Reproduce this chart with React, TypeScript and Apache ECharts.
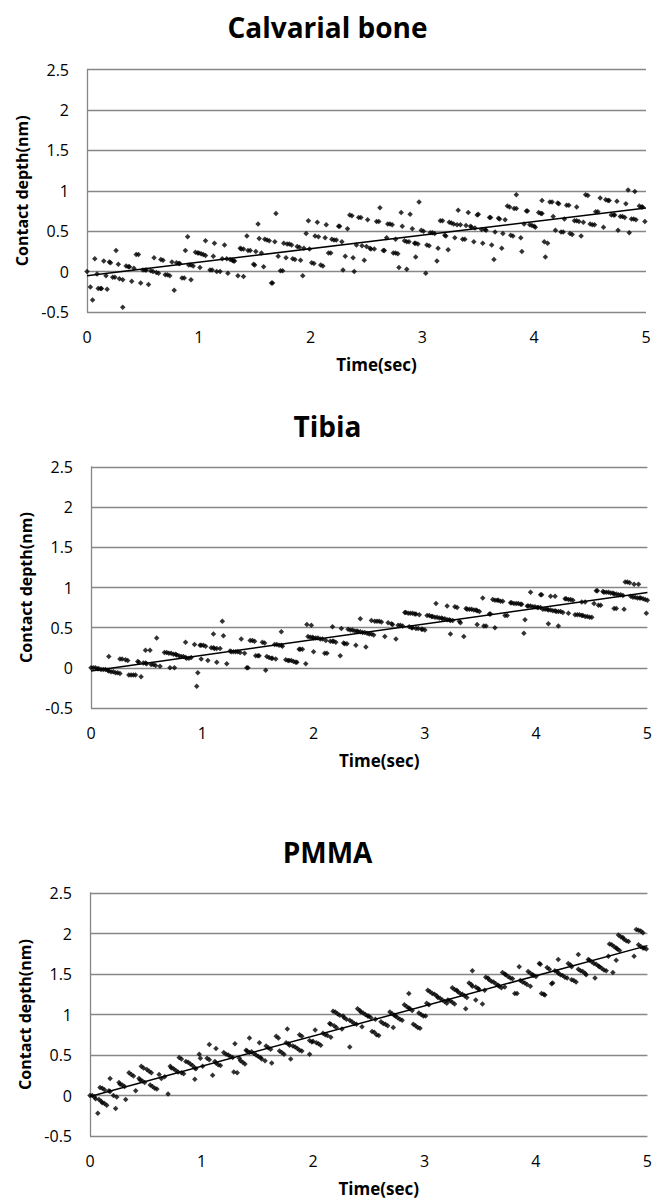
import React, { useEffect, useRef } from "react";
import * as echarts from "echarts";

const chartTitles = ["Calvarial bone", "Tibia", "PMMA"];
const xAxisTitle = "Time(sec)";
const yAxisTitle = "Contact depth(nm)";

const calvarialPoints: [number, number][] = [
  [0.00,0.00],[0.03,-0.19],[0.05,-0.35],[0.07,0.16],[0.09,-0.03],[0.10,-0.21],[0.12,-0.21],[0.13,-0.21],[0.15,0.13],[0.17,-0.05],
  [0.18,-0.22],[0.20,0.12],[0.21,0.11],[0.23,-0.07],[0.25,-0.07],[0.26,0.26],[0.28,0.09],[0.29,-0.09],[0.32,-0.10],[0.32,-0.44],
  [0.35,0.07],[0.37,0.06],[0.38,0.06],[0.40,-0.12],[0.42,0.04],[0.44,0.21],[0.46,0.21],[0.48,-0.14],[0.50,0.02],[0.52,0.02],
  [0.53,0.02],[0.55,-0.16],[0.57,0.01],[0.59,0.00],[0.60,0.17],[0.62,-0.01],[0.64,-0.02],[0.66,0.15],[0.68,0.14],[0.70,-0.04],
  [0.72,-0.04],[0.74,-0.05],[0.76,0.12],[0.78,-0.23],[0.80,0.11],[0.82,0.10],[0.83,0.10],[0.85,-0.08],[0.87,-0.08],[0.88,0.26],
  [0.90,0.43],[0.91,0.08],[0.93,0.08],[0.93,-0.10],[0.95,0.07],[0.97,0.24],[0.99,0.23],[1.00,0.23],[1.02,0.22],[1.04,0.21],
  [1.06,0.20],[1.01,0.05],[1.06,0.38],[1.10,0.02],[1.12,0.02],[1.13,0.19],[1.14,0.35],[1.16,0.00],[1.19,0.00],[1.21,0.16],
  [1.23,0.33],[1.25,0.16],[1.26,-0.02],[1.28,0.15],[1.30,0.14],[1.31,0.13],[1.32,0.13],[1.35,-0.05],[1.37,0.29],[1.38,0.28],
  [1.40,-0.06],[1.40,0.28],[1.43,0.44],[1.44,0.26],[1.46,0.26],[1.49,0.09],[1.50,0.08],[1.51,0.25],[1.53,0.59],[1.54,0.41],
  [1.56,0.23],[1.58,0.06],[1.59,0.40],[1.61,0.39],[1.63,0.38],[1.65,-0.14],[1.66,-0.14],[1.68,0.37],[1.69,0.72],[1.71,0.19],
  [1.73,0.01],[1.75,0.01],[1.76,0.35],[1.78,0.17],[1.79,0.34],[1.81,0.34],[1.83,0.33],[1.84,0.16],[1.86,0.15],[1.88,0.31],
  [1.90,0.30],[1.91,0.14],[1.93,-0.05],[1.94,0.29],[1.96,0.47],[1.98,0.63],[1.99,0.28],[2.01,0.11],[2.03,0.10],[2.04,0.44],
  [2.06,0.61],[2.07,0.43],[2.09,0.08],[2.11,0.07],[2.13,0.42],[2.14,0.58],[2.16,0.23],[2.18,0.23],[2.19,0.40],[2.21,0.39],
  [2.23,0.39],[2.25,0.56],[2.26,0.56],[2.28,0.37],[2.29,0.02],[2.31,0.19],[2.33,0.53],[2.35,0.70],[2.37,0.69],[2.38,0.17],
  [2.39,0.00],[2.41,0.33],[2.43,0.67],[2.45,0.67],[2.46,0.32],[2.48,0.14],[2.50,0.31],[2.51,0.64],[2.53,0.29],[2.54,0.28],
  [2.57,0.28],[2.59,0.62],[2.61,0.62],[2.62,0.79],[2.65,0.26],[2.66,0.26],[2.68,0.42],[2.69,0.59],[2.71,0.59],[2.73,0.58],
  [2.74,0.23],[2.76,0.23],[2.78,0.22],[2.76,0.40],[2.79,0.05],[2.81,0.73],[2.82,0.56],[2.84,0.38],[2.86,0.37],[2.88,0.37],
  [2.86,0.03],[2.89,0.71],[2.91,0.53],[2.93,0.35],[2.94,0.35],[2.96,0.34],[2.94,0.18],[2.97,0.86],[2.99,0.51],[3.01,0.50],
  [3.03,-0.02],[3.04,0.33],[3.06,0.32],[3.07,0.48],[3.09,0.48],[3.11,0.47],[3.13,0.13],[3.14,0.29],[3.16,0.63],[3.18,0.63],
  [3.20,0.45],[3.21,0.44],[3.23,0.27],[3.24,0.61],[3.26,0.60],[3.28,0.59],[3.29,0.42],[3.31,0.58],[3.32,0.76],[3.34,0.58],
  [3.36,0.40],[3.38,0.40],[3.39,0.57],[3.41,0.73],[3.43,0.56],[3.44,0.55],[3.46,0.37],[3.47,0.54],[3.49,0.70],[3.50,0.71],
  [3.53,0.52],[3.54,0.35],[3.56,0.52],[3.57,0.51],[3.60,0.67],[3.61,0.67],[3.62,0.33],[3.64,0.15],[3.65,0.49],[3.68,0.66],
  [3.69,0.65],[3.71,0.29],[3.72,0.47],[3.74,0.64],[3.76,0.81],[3.78,0.80],[3.79,0.45],[3.81,0.44],[3.82,0.78],[3.84,0.78],
  [3.84,0.95],[3.88,0.42],[3.89,0.25],[3.91,0.59],[3.93,0.75],[3.94,0.75],[3.96,0.58],[3.98,0.57],[4.00,0.56],[4.01,0.55],
  [4.04,0.73],[4.06,0.72],[4.07,0.72],[4.07,0.88],[4.09,0.37],[4.10,0.18],[4.12,0.35],[4.14,0.86],[4.16,0.86],[4.17,0.68],
  [4.19,0.51],[4.21,0.85],[4.22,0.84],[4.24,0.49],[4.26,0.49],[4.27,0.65],[4.29,0.82],[4.31,0.82],[4.32,0.47],[4.34,0.46],
  [4.36,0.63],[4.38,0.63],[4.40,0.62],[4.38,0.80],[4.42,0.44],[4.44,0.61],[4.46,0.95],[4.48,0.94],[4.50,0.59],[4.52,0.58],
  [4.54,0.58],[4.55,0.74],[4.57,0.74],[4.59,0.91],[4.62,0.55],[4.64,0.89],[4.66,0.88],[4.67,0.88],[4.69,0.70],[4.71,0.70],
  [4.72,0.70],[4.74,0.87],[4.75,0.51],[4.77,0.68],[4.79,0.68],[4.81,0.67],[4.82,0.84],[4.84,1.01],[4.85,0.48],[4.87,0.65],
  [4.89,0.65],[4.91,0.64],[4.90,0.99],[4.94,0.81],[4.96,0.80],[4.97,0.80],[4.99,0.62]
];

const tibiaPoints: [number, number][] = [
  [0.00,0.00],[0.02,0.00],[0.04,0.00],[0.06,-0.01],[0.07,-0.01],[0.09,-0.02],[0.11,-0.02],[0.13,-0.02],[0.15,-0.03],[0.16,-0.04],
  [0.18,-0.05],[0.20,-0.05],[0.22,-0.06],[0.24,-0.06],[0.26,-0.07],[0.16,0.14],[0.26,0.11],[0.28,0.11],[0.31,0.10],[0.33,0.09],
  [0.34,-0.09],[0.36,-0.09],[0.38,-0.09],[0.40,-0.09],[0.42,0.08],[0.43,0.07],[0.45,-0.11],[0.47,0.06],[0.49,0.06],[0.50,0.05],
  [0.49,0.22],[0.53,0.22],[0.54,0.04],[0.56,0.04],[0.58,0.03],[0.59,0.37],[0.62,0.02],[0.66,0.19],[0.68,0.19],[0.70,0.18],
  [0.72,0.18],[0.74,0.17],[0.76,0.17],[0.77,0.16],[0.79,0.15],[0.81,0.14],[0.83,0.14],[0.85,0.13],[0.86,0.12],[0.88,0.12],
  [0.90,0.13],[0.71,0.00],[0.75,0.00],[0.85,0.32],[0.93,0.29],[0.95,-0.23],[0.96,-0.06],[0.98,0.28],[0.99,0.28],[1.01,0.28],
  [1.03,0.27],[0.99,0.11],[1.05,0.09],[1.08,0.25],[1.10,0.25],[1.11,0.24],[1.13,0.24],[1.16,0.24],[1.10,0.42],[1.13,0.07],
  [1.18,0.58],[1.19,0.40],[1.22,0.05],[1.25,0.21],[1.26,0.20],[1.28,0.20],[1.30,0.20],[1.32,0.20],[1.34,0.19],[1.35,0.36],
  [1.38,0.18],[1.40,0.00],[1.41,0.00],[1.43,0.34],[1.45,0.34],[1.47,0.33],[1.48,0.15],[1.50,0.15],[1.51,0.15],[1.54,0.32],
  [1.56,0.31],[1.57,-0.03],[1.58,0.14],[1.60,0.13],[1.62,0.12],[1.63,0.12],[1.66,0.11],[1.65,0.29],[1.67,0.29],[1.69,0.28],
  [1.71,0.28],[1.72,0.27],[1.71,0.45],[1.75,0.10],[1.77,0.09],[1.78,0.09],[1.80,0.09],[1.82,0.08],[1.84,0.07],[1.85,0.07],
  [1.87,0.23],[1.88,0.23],[1.90,0.23],[1.93,0.05],[1.95,0.39],[1.97,0.38],[1.99,0.38],[2.00,0.37],[2.02,0.37],[2.04,0.37],
  [2.06,0.36],[2.08,0.36],[1.94,0.54],[1.98,0.53],[2.00,0.20],[2.10,0.18],[2.12,0.18],[2.11,0.34],[2.15,0.33],[2.17,0.33],
  [2.18,0.33],[2.20,0.32],[2.17,0.51],[2.24,0.15],[2.25,0.49],[2.27,0.31],[2.28,0.30],[2.30,0.30],[2.31,0.48],[2.33,0.47],
  [2.35,0.47],[2.37,0.46],[2.39,0.46],[2.40,0.45],[2.42,0.45],[2.44,0.44],[2.46,0.44],[2.48,0.43],[2.42,0.61],[2.38,0.28],
  [2.47,0.26],[2.50,0.42],[2.52,0.42],[2.54,0.41],[2.52,0.59],[2.55,0.58],[2.57,0.58],[2.59,0.58],[2.61,0.57],[2.64,0.39],
  [2.67,0.56],[2.70,0.55],[2.71,0.54],[2.74,0.36],[2.76,0.53],[2.78,0.53],[2.80,0.52],[2.82,0.69],[2.83,0.69],[2.85,0.68],
  [2.87,0.68],[2.89,0.68],[2.91,0.67],[2.92,0.67],[2.95,0.66],[2.86,0.51],[2.88,0.50],[2.89,0.50],[2.92,0.49],[2.94,0.49],
  [2.97,0.48],[2.98,0.48],[3.00,0.47],[3.02,0.65],[3.04,0.65],[3.06,0.64],[3.07,0.64],[3.09,0.63],[3.11,0.63],[3.13,0.62],
  [3.15,0.62],[3.16,0.61],[3.18,0.61],[3.20,0.60],[3.22,0.60],[3.23,0.59],[3.25,0.59],[3.10,0.80],[3.20,0.77],[3.23,0.42],
  [3.27,0.76],[3.29,0.75],[3.31,0.58],[3.32,0.56],[3.35,0.39],[3.37,0.74],[3.38,0.73],[3.40,0.73],[3.42,0.73],[3.44,0.72],
  [3.46,0.72],[3.47,0.71],[3.49,0.70],[3.47,0.54],[3.52,0.87],[3.53,0.52],[3.55,0.52],[3.58,0.67],[3.59,0.67],[3.61,0.85],
  [3.63,0.84],[3.65,0.84],[3.66,0.84],[3.68,0.83],[3.70,0.83],[3.63,0.50],[3.72,0.65],[3.74,0.65],[3.77,0.81],[3.78,0.81],
  [3.80,0.80],[3.82,0.80],[3.84,0.80],[3.86,0.79],[3.87,0.79],[3.89,0.43],[3.90,0.60],[3.92,0.77],[3.93,0.77],[3.95,0.77],
  [3.97,0.76],[3.99,0.76],[4.01,0.75],[4.02,0.75],[4.04,0.75],[3.95,0.94],[4.04,0.91],[4.05,0.91],[4.06,0.73],[4.08,0.73],
  [4.10,0.73],[4.11,0.72],[4.13,0.72],[4.15,0.71],[4.17,0.71],[4.18,0.70],[4.20,0.70],[4.22,0.70],[4.24,0.69],[4.11,0.55],
  [4.13,0.89],[4.17,0.89],[4.20,0.52],[4.26,0.86],[4.27,0.86],[4.29,0.85],[4.31,0.85],[4.33,0.84],[4.29,0.68],[4.35,0.66],
  [4.37,0.66],[4.39,0.66],[4.41,0.65],[4.42,0.65],[4.44,0.64],[4.46,0.64],[4.48,0.63],[4.50,0.63],[4.41,0.82],[4.44,0.82],
  [4.52,0.80],[4.54,0.96],[4.55,0.96],[4.56,0.78],[4.58,0.78],[4.60,0.95],[4.61,0.94],[4.63,0.94],[4.65,0.94],[4.67,0.93],
  [4.69,0.93],[4.70,0.92],[4.72,0.92],[4.74,0.91],[4.76,0.91],[4.78,0.90],[4.70,0.74],[4.72,0.74],[4.79,0.73],[4.80,1.07],
  [4.82,1.07],[4.84,1.06],[4.88,1.04],[4.92,1.04],[4.85,0.89],[4.87,0.88],[4.89,0.88],[4.91,0.87],[4.93,0.87],[4.94,0.87],
  [4.96,0.86],[4.98,0.85],[5.00,0.84],[4.99,0.68]
];

const pmmaPoints: [number, number][] = [
  [0.00,0.00],[0.02,0.00],[0.04,-0.02],[0.05,-0.04],[0.07,-0.22],[0.08,-0.05],[0.10,-0.07],[0.11,-0.09],[0.13,-0.10],[0.15,-0.12],
  [0.09,0.10],[0.11,0.09],[0.13,0.07],[0.18,0.21],[0.17,0.06],[0.18,0.05],[0.21,0.00],[0.24,-0.02],[0.23,-0.16],[0.26,0.16],
  [0.27,0.14],[0.29,0.13],[0.31,0.11],[0.32,-0.05],[0.35,0.28],[0.37,0.26],[0.39,0.24],[0.41,0.06],[0.44,0.21],[0.45,0.19],
  [0.47,0.18],[0.49,0.16],[0.46,0.36],[0.48,0.34],[0.51,0.32],[0.53,0.30],[0.55,0.28],[0.54,0.13],[0.56,0.11],[0.58,0.09],
  [0.60,0.08],[0.62,0.26],[0.64,0.21],[0.67,0.23],[0.70,0.02],[0.72,0.36],[0.73,0.34],[0.75,0.33],[0.77,0.31],[0.79,0.29],
  [0.80,0.47],[0.82,0.45],[0.82,0.28],[0.84,0.27],[0.86,0.42],[0.88,0.41],[0.90,0.39],[0.92,0.37],[0.94,0.20],[0.94,0.34],
  [0.95,0.33],[0.98,0.51],[0.99,0.46],[1.01,0.36],[1.05,0.46],[1.07,0.44],[1.07,0.63],[1.10,0.25],[1.12,0.42],[1.13,0.40],
  [1.15,0.38],[1.17,0.37],[1.13,0.58],[1.20,0.53],[1.22,0.51],[1.24,0.50],[1.26,0.48],[1.28,0.47],[1.29,0.29],[1.32,0.28],
  [1.30,0.64],[1.34,0.46],[1.35,0.43],[1.37,0.41],[1.39,0.39],[1.40,0.56],[1.41,0.55],[1.43,0.53],[1.43,0.71],[1.45,0.54],
  [1.47,0.52],[1.49,0.50],[1.51,0.48],[1.53,0.47],[1.54,0.45],[1.57,0.43],[1.52,0.65],[1.58,0.61],[1.60,0.59],[1.62,0.57],
  [1.63,0.40],[1.67,0.73],[1.69,0.71],[1.70,0.55],[1.72,0.53],[1.74,0.51],[1.77,0.82],[1.76,0.65],[1.78,0.64],[1.79,0.62],
  [1.80,0.45],[1.82,0.61],[1.84,0.60],[1.86,0.58],[1.88,0.56],[1.90,0.55],[1.88,0.75],[1.90,0.73],[1.97,0.51],[1.97,0.68],
  [1.99,0.66],[2.00,0.67],[2.02,0.81],[2.03,0.65],[2.05,0.64],[2.07,0.62],[2.09,0.77],[2.11,0.75],[2.13,0.74],[2.15,0.89],
  [2.16,0.88],[2.16,0.72],[2.19,0.86],[2.21,0.84],[2.18,1.04],[2.20,1.03],[2.22,1.01],[2.24,0.99],[2.26,0.82],[2.27,0.98],
  [2.28,0.96],[2.30,0.94],[2.33,0.60],[2.33,0.93],[2.35,0.91],[2.37,0.89],[2.39,0.88],[2.40,1.07],[2.42,1.05],[2.43,1.03],
  [2.45,1.02],[2.47,1.00],[2.49,0.98],[2.44,0.85],[2.50,0.98],[2.52,0.96],[2.53,0.79],[2.55,0.78],[2.57,0.75],[2.59,0.74],
  [2.56,0.94],[2.61,0.91],[2.63,0.89],[2.65,0.88],[2.67,0.86],[2.69,1.03],[2.71,1.01],[2.73,0.99],[2.74,0.98],[2.72,0.84],
  [2.76,0.96],[2.78,0.94],[2.80,0.93],[2.82,1.12],[2.84,1.10],[2.86,1.08],[2.86,1.26],[2.87,1.07],[2.89,1.05],[2.90,0.88],
  [2.92,0.86],[2.94,0.84],[2.96,0.83],[2.95,1.02],[2.97,1.00],[2.99,0.98],[3.01,0.98],[3.02,1.14],[3.04,1.12],[3.03,1.30],
  [3.05,1.28],[3.07,1.26],[3.09,1.25],[3.11,1.23],[3.12,1.21],[3.14,1.20],[3.16,1.18],[3.18,1.16],[3.20,1.14],[3.21,1.18],
  [3.23,1.17],[3.25,1.15],[3.27,1.13],[3.25,1.33],[3.27,1.31],[3.29,1.30],[3.30,1.28],[3.32,1.26],[3.34,1.25],[3.36,1.23],
  [3.38,1.21],[3.37,1.07],[3.40,1.39],[3.42,1.37],[3.43,1.35],[3.43,1.54],[3.46,1.34],[3.48,1.32],[3.49,1.31],[3.46,1.18],
  [3.52,1.13],[3.54,1.30],[3.55,1.46],[3.57,1.45],[3.58,1.43],[3.60,1.41],[3.62,1.40],[3.64,1.38],[3.66,1.36],[3.67,1.35],
  [3.69,1.33],[3.72,1.34],[3.70,1.52],[3.72,1.50],[3.73,1.49],[3.75,1.47],[3.77,1.45],[3.79,1.44],[3.81,1.26],[3.83,1.26],
  [3.85,1.59],[3.86,1.42],[3.88,1.40],[3.90,1.39],[3.92,1.37],[3.93,1.53],[3.95,1.51],[3.97,1.49],[3.98,1.48],[4.00,1.47],
  [3.95,1.35],[4.03,1.63],[4.04,1.62],[4.05,1.26],[4.07,1.25],[4.08,1.24],[4.10,1.58],[4.12,1.56],[4.14,1.38],[4.15,1.39],
  [4.17,1.54],[4.19,1.53],[4.20,1.51],[4.22,1.49],[4.24,1.48],[4.26,1.46],[4.28,1.45],[4.20,1.68],[4.29,1.63],[4.31,1.61],
  [4.32,1.59],[4.32,1.43],[4.34,1.42],[4.36,1.40],[4.38,1.74],[4.38,1.56],[4.40,1.54],[4.42,1.53],[4.44,1.51],[4.45,1.49],
  [4.47,1.68],[4.48,1.67],[4.50,1.65],[4.52,1.63],[4.53,1.45],[4.54,1.62],[4.56,1.60],[4.57,1.59],[4.59,1.57],[4.61,1.55],
  [4.63,1.54],[4.65,1.72],[4.66,1.87],[4.68,1.86],[4.70,1.84],[4.72,1.82],[4.73,1.81],[4.75,1.79],[4.69,1.52],[4.72,1.67],
  [4.74,1.98],[4.76,1.96],[4.78,1.95],[4.79,1.93],[4.81,1.91],[4.83,1.90],[4.88,1.72],[4.90,2.05],[4.92,2.04],[4.94,2.03],
  [4.96,2.01],[4.92,1.86],[4.94,1.84],[4.96,1.82],[4.97,1.82],[4.99,1.81]
];

const seriesData = [calvarialPoints, tibiaPoints, pmmaPoints];
const xMin = 0;
const xMax = 5;
const yMin = -0.5;
const yMax = 2.5;

function linearTrend(points: [number, number][]): [number, number][] {
  const n = points.length;
  let sx = 0, sy = 0, sxx = 0, sxy = 0;
  for (const [x, y] of points) {
    sx += x; sy += y; sxx += x * x; sxy += x * y;
  }
  const slope = (n * sxy - sx * sy) / (n * sxx - sx * sx);
  const intercept = (sy - slope * sx) / n;
  return [[xMin, intercept], [xMax, intercept + slope * xMax]];
}

const FONT = "'Open Sans', 'Liberation Sans', sans-serif";
const GRID_COLOR = "#878787";

export default function App() {
  const ref = useRef<HTMLDivElement>(null);

  useEffect(() => {
    document.body.style.margin = "0";
    const chart = echarts.init(ref.current!, null, { renderer: "svg" });

    const grids = [
      { left: 87, top: 69.5, width: 559, height: 242.5 },
      { left: 91, top: 467, width: 558, height: 241 },
      { left: 90, top: 893, width: 559, height: 243 },
    ];
    const titleTops = [8, 407, 833];

    const option: any = {
      animation: false,
      backgroundColor: "#ffffff",
      title: chartTitles.map((t, i) => ({
        text: t,
        left: "center",
        top: titleTops[i],
        textStyle: { fontFamily: FONT, fontSize: 28, fontWeight: "bold", color: "#000" },
      })),
      grid: grids.map((g) => ({ ...g, containLabel: false })),
      xAxis: grids.map((_, i) => ({
        type: "value",
        gridIndex: i,
        min: xMin,
        max: xMax,
        interval: 1,
        axisLine: { show: false },
        axisTick: { show: false },
        splitLine: { show: false },
        axisLabel: { fontFamily: FONT, fontSize: 16, color: "#000", margin: 17 },
        name: xAxisTitle,
        nameLocation: "middle",
        nameGap: 44,
        nameTextStyle: {
          fontFamily: FONT,
          fontSize: 17,
          fontWeight: "bold",
          color: "#000",
          padding: [0, 0, 0, 20],
        },
      })),
      yAxis: grids.map((_, i) => ({
        type: "value",
        gridIndex: i,
        min: yMin,
        max: yMax,
        interval: 0.5,
        axisLine: { show: true, lineStyle: { color: GRID_COLOR, width: 1.3 } },
        axisTick: { show: false },
        splitLine: { show: true, lineStyle: { color: GRID_COLOR, width: 1.3 } },
        axisLabel: { fontFamily: FONT, fontSize: 16, color: "#000", margin: 18 },
        name: yAxisTitle,
        nameLocation: "middle",
        nameRotate: 90,
        nameGap: 54,
        nameTextStyle: { fontFamily: FONT, fontSize: 16, fontWeight: "bold", color: "#000" },
      })),
      series: seriesData.flatMap((pts, i) => [
        {
          type: "scatter",
          xAxisIndex: i,
          yAxisIndex: i,
          data: pts,
          symbol: "diamond",
          symbolSize: 5.5,
          itemStyle: { color: "#000" },
          silent: true,
        },
        {
          type: "line",
          xAxisIndex: i,
          yAxisIndex: i,
          data: linearTrend(pts),
          showSymbol: false,
          lineStyle: { color: "#000", width: 1.5 },
          silent: true,
        },
      ]),
    };

    chart.setOption(option);
    return () => chart.dispose();
  }, []);

  return <div ref={ref} style={{ width: 655, height: 1202 }} />;
}
